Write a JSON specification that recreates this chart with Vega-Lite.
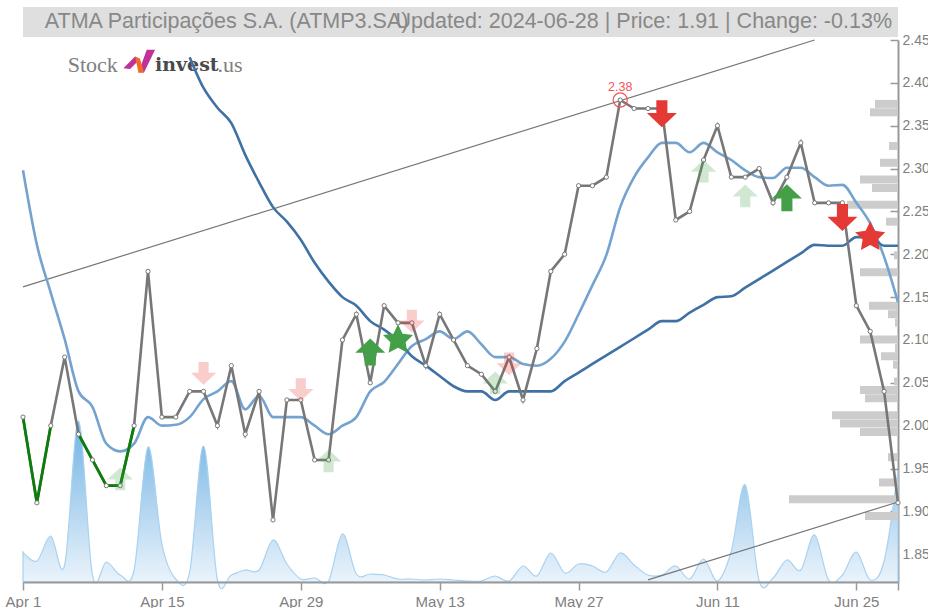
{
"$schema":"https://vega.github.io/schema/vega-lite/v6.json",
"width":875,"height":542,
"autosize":{"type":"none"},
"padding":{"left":23,"top":40,"right":30,"bottom":26},
"background":"white",
"config":{"view":{"stroke":null},"font":"Liberation Sans"},
"datasets":{
"main":[
{"d":"Apr 1","price":2.01,"fast":2.298,"slow":null,"vol":30000,"seg":"a"},
{"d":"Apr 2","price":1.91,"fast":2.211,"slow":null,"vol":21000,"seg":"a"},
{"d":"Apr 3","price":2.00,"fast":2.155,"slow":null,"vol":46000,"seg":"a"},
{"d":"Apr 4","price":2.08,"fast":2.101,"slow":null,"vol":17000,"seg":null},
{"d":"Apr 5","price":1.99,"fast":2.040,"slow":null,"vol":161000,"seg":"b"},
{"d":"Apr 8","price":1.96,"fast":2.022,"slow":null,"vol":7000,"seg":"b"},
{"d":"Apr 9","price":1.93,"fast":1.979,"slow":null,"vol":20000,"seg":"b"},
{"d":"Apr 10","price":1.93,"fast":1.970,"slow":null,"vol":7000,"seg":"b"},
{"d":"Apr 11","price":2.00,"fast":1.979,"slow":null,"vol":12000,"seg":"b"},
{"d":"Apr 12","price":2.18,"fast":2.010,"slow":null,"vol":135000,"seg":null},
{"d":"Apr 15","price":2.01,"fast":2.000,"slow":null,"vol":38000,"seg":null},
{"d":"Apr 16","price":2.01,"fast":2.001,"slow":null,"vol":3000,"seg":null},
{"d":"Apr 17","price":2.04,"fast":2.010,"slow":2.430,"vol":10000,"seg":null},
{"d":"Apr 18","price":2.04,"fast":2.031,"slow":2.394,"vol":136000,"seg":null},
{"d":"Apr 19","price":2.00,"fast":2.040,"slow":2.371,"vol":2000,"seg":null},
{"d":"Apr 22","price":2.07,"fast":2.052,"slow":2.353,"vol":7000,"seg":null},
{"d":"Apr 23","price":1.99,"fast":2.019,"slow":2.316,"vol":12000,"seg":null},
{"d":"Apr 24","price":2.04,"fast":2.035,"slow":2.284,"vol":12000,"seg":null},
{"d":"Apr 25","price":1.89,"fast":2.010,"slow":2.255,"vol":42000,"seg":null},
{"d":"Apr 26","price":2.03,"fast":2.010,"slow":2.238,"vol":18000,"seg":null},
{"d":"Apr 29","price":2.03,"fast":2.010,"slow":2.217,"vol":3000,"seg":null},
{"d":"Apr 30","price":1.96,"fast":2.000,"slow":2.190,"vol":4000,"seg":null},
{"d":"May 1","price":1.96,"fast":1.990,"slow":2.168,"vol":1000,"seg":null},
{"d":"May 2","price":2.10,"fast":2.000,"slow":2.150,"vol":48000,"seg":null},
{"d":"May 3","price":2.13,"fast":2.010,"slow":2.140,"vol":8000,"seg":null},
{"d":"May 6","price":2.05,"fast":2.040,"slow":2.122,"vol":8000,"seg":null},
{"d":"May 7","price":2.14,"fast":2.051,"slow":2.112,"vol":7000,"seg":null},
{"d":"May 8","price":2.12,"fast":2.072,"slow":2.099,"vol":3000,"seg":null},
{"d":"May 9","price":2.12,"fast":2.093,"slow":2.081,"vol":3000,"seg":null},
{"d":"May 10","price":2.07,"fast":2.101,"slow":2.070,"vol":2000,"seg":null},
{"d":"May 13","price":2.13,"fast":2.110,"slow":2.058,"vol":3000,"seg":null},
{"d":"May 14","price":2.10,"fast":2.101,"slow":2.046,"vol":2000,"seg":null},
{"d":"May 15","price":2.07,"fast":2.110,"slow":2.040,"vol":1000,"seg":null},
{"d":"May 16","price":2.06,"fast":2.095,"slow":2.040,"vol":1000,"seg":null},
{"d":"May 17","price":2.04,"fast":2.080,"slow":2.030,"vol":6000,"seg":null},
{"d":"May 20","price":2.08,"fast":2.080,"slow":2.040,"vol":1000,"seg":null},
{"d":"May 21","price":2.03,"fast":2.072,"slow":2.040,"vol":16000,"seg":null},
{"d":"May 22","price":2.09,"fast":2.070,"slow":2.040,"vol":6000,"seg":null},
{"d":"May 23","price":2.18,"fast":2.078,"slow":2.040,"vol":29000,"seg":null},
{"d":"May 24","price":2.20,"fast":2.098,"slow":2.052,"vol":9000,"seg":null},
{"d":"May 27","price":2.28,"fast":2.130,"slow":2.062,"vol":18000,"seg":null},
{"d":"May 28","price":2.28,"fast":2.164,"slow":2.072,"vol":16000,"seg":null},
{"d":"May 29","price":2.29,"fast":2.199,"slow":2.082,"vol":10000,"seg":null},
{"d":"May 31","price":2.38,"fast":2.255,"slow":2.092,"vol":29000,"seg":null},
{"d":"Jun 3","price":2.37,"fast":2.290,"slow":2.102,"vol":17000,"seg":null},
{"d":"Jun 4","price":2.37,"fast":2.313,"slow":2.112,"vol":7000,"seg":null},
{"d":"Jun 5","price":2.37,"fast":2.330,"slow":2.122,"vol":7000,"seg":null},
{"d":"Jun 6","price":2.24,"fast":2.330,"slow":2.122,"vol":16000,"seg":null},
{"d":"Jun 7","price":2.25,"fast":2.319,"slow":2.132,"vol":3000,"seg":null},
{"d":"Jun 10","price":2.31,"fast":2.330,"slow":2.141,"vol":23000,"seg":null},
{"d":"Jun 11","price":2.35,"fast":2.319,"slow":2.150,"vol":1000,"seg":null},
{"d":"Jun 12","price":2.29,"fast":2.310,"slow":2.151,"vol":31000,"seg":null},
{"d":"Jun 13","price":2.29,"fast":2.298,"slow":2.161,"vol":97000,"seg":null},
{"d":"Jun 14","price":2.30,"fast":2.290,"slow":2.171,"vol":1000,"seg":null},
{"d":"Jun 17","price":2.26,"fast":2.289,"slow":2.181,"vol":4000,"seg":null},
{"d":"Jun 18","price":2.29,"fast":2.301,"slow":2.191,"vol":22000,"seg":null},
{"d":"Jun 19","price":2.33,"fast":2.301,"slow":2.201,"vol":12000,"seg":null},
{"d":"Jun 20","price":2.26,"fast":2.290,"slow":2.211,"vol":47000,"seg":null},
{"d":"Jun 21","price":2.26,"fast":2.280,"slow":2.210,"vol":2000,"seg":null},
{"d":"Jun 24","price":2.26,"fast":2.281,"slow":2.210,"vol":7000,"seg":null},
{"d":"Jun 25","price":2.14,"fast":2.260,"slow":2.220,"vol":30000,"seg":null},
{"d":"Jun 26","price":2.11,"fast":2.236,"slow":2.220,"vol":2000,"seg":null},
{"d":"Jun 27","price":2.04,"fast":2.197,"slow":2.210,"vol":21000,"seg":null},
{"d":"Jun 28","price":1.91,"fast":2.144,"slow":2.210,"vol":112000,"seg":null}
],
"profile":[
{"level":2.38,"w":23},{"level":2.37,"w":28},{"level":2.33,"w":9},{"level":2.31,"w":18},{"level":2.29,"w":38},{"level":2.28,"w":26},{"level":2.26,"w":51},{"level":2.24,"w":12},{"level":2.20,"w":4},{"level":2.18,"w":38},{"level":2.14,"w":29},{"level":2.13,"w":10},{"level":2.12,"w":3},{"level":2.10,"w":38},{"level":2.09,"w":3},{"level":2.08,"w":17},{"level":2.07,"w":5},{"level":2.05,"w":4},{"level":2.04,"w":38},{"level":2.03,"w":33},{"level":2.01,"w":66},{"level":2.00,"w":58},{"level":1.99,"w":38},{"level":1.96,"w":10},{"level":1.93,"w":19},{"level":1.91,"w":109},{"level":1.89,"w":33}
],
"trend":[
{"d":"Apr 1","p":2.162,"line":"upper"},{"d":"Jun 20","p":2.45,"line":"upper"},
{"d":"Jun 4","p":1.82,"line":"lower"},{"d":"Jun 28","p":1.911,"line":"lower"}
],
"signals":[
{"d":"Apr 18","p":2.061,"kind":"down","strength":"weak"},
{"d":"Apr 29","p":2.042,"kind":"down","strength":"weak"},
{"d":"May 9","p":2.122,"kind":"down","strength":"weak"},
{"d":"May 20","p":2.072,"kind":"down","strength":"weak"},
{"d":"Apr 10","p":1.938,"kind":"up","strength":"weak"},
{"d":"May 1","p":1.959,"kind":"up","strength":"weak"},
{"d":"May 17","p":2.050,"kind":"up","strength":"weak"},
{"d":"Jun 10","p":2.297,"kind":"up","strength":"weak"},
{"d":"Jun 13","p":2.268,"kind":"up","strength":"weak"},
{"d":"May 6","p":2.086,"kind":"up","strength":"strong"},
{"d":"Jun 18","p":2.266,"kind":"up","strength":"strong"},
{"d":"Jun 5","p":2.364,"kind":"down","strength":"strong"},
{"d":"Jun 24","p":2.243,"kind":"down","strength":"strong"},
{"d":"May 8","p":2.100,"kind":"star","strength":"buy"},
{"d":"Jun 26","p":2.220,"kind":"star","strength":"sell"}
]
},
"layer":[
{
"data":{"name":"main"},
"mark":{"type":"area","interpolate":"cardinal","clip":false,"stroke":"#a8d2f0","strokeWidth":1.2,"fill":{"x1":0,"y1":0,"x2":0,"y2":1,"gradient":"linear","stops":[{"offset":0,"color":"#71b2e3"},{"offset":1,"color":"#eff6fc"}]}},
"encoding":{
"x":{"field":"d","type":"ordinal","sort":null,"scale":{"type":"point","padding":0},"axis":null},
"y":{"field":"vol","type":"quantitative","scale":{"domain":[0,542000],"nice":false,"zero":true},"axis":null}
}
},
{
"data":{"name":"profile"},
"mark":{"type":"bar","orient":"horizontal","size":8,"color":"#cccccc"},
"encoding":{
"x":{"field":"w","type":"quantitative","scale":{"domain":[0,875],"reverse":true,"nice":false},"axis":null},
"y":{"field":"level","type":"quantitative","scale":{"domain":[1.8176,2.45],"nice":false,"zero":false},"axis":null}
}
},
{
"encoding":{
"x":{"field":"d","type":"ordinal","scale":{"type":"point","padding":0,"domain":["Apr 1","Apr 2","Apr 3","Apr 4","Apr 5","Apr 8","Apr 9","Apr 10","Apr 11","Apr 12","Apr 15","Apr 16","Apr 17","Apr 18","Apr 19","Apr 22","Apr 23","Apr 24","Apr 25","Apr 26","Apr 29","Apr 30","May 1","May 2","May 3","May 6","May 7","May 8","May 9","May 10","May 13","May 14","May 15","May 16","May 17","May 20","May 21","May 22","May 23","May 24","May 27","May 28","May 29","May 31","Jun 3","Jun 4","Jun 5","Jun 6","Jun 7","Jun 10","Jun 11","Jun 12","Jun 13","Jun 14","Jun 17","Jun 18","Jun 19","Jun 20","Jun 21","Jun 24","Jun 25","Jun 26","Jun 27","Jun 28"]},
"axis":{"title":null,"values":["Apr 1","Apr 15","Apr 29","May 13","May 27","Jun 11","Jun 25","Jun 28"],"labelExpr":"datum.label=='Jun 28'?'':datum.label","labelAngle":0,"labelFontSize":15,"labelColor":"#808080","labelPadding":4,"domainColor":"#999999","domainWidth":2,"tickColor":"#999999","tickWidth":1.5,"tickSize":8,"grid":false,"labelOverlap":false,"labelFlush":false}},
"y":{"type":"quantitative","scale":{"domain":[1.8176,2.45],"nice":false,"zero":false},
"axis":{"title":null,"orient":"right","values":[1.85,1.9,1.95,2,2.05,2.1,2.15,2.2,2.25,2.3,2.35,2.4,2.45],"format":".2f","labelFontSize":14,"labelColor":"#808080","labelPadding":12,"domainColor":"#999999","domainWidth":2,"tickColor":"#999999","tickWidth":1.5,"tickSize":-8,"grid":false,"labelOverlap":false,"labelFlush":false}}
},
"layer":[
{"data":{"name":"main"},"mark":{"type":"rect","color":"#dfdfdf","clip":false},"transform":[{"filter":"datum.d=='Apr 1'"}],
"encoding":{"x":{"datum":"Apr 1","type":"ordinal"},"x2":{"datum":"Jun 28"},"y":{"datum":2.4885,"type":"quantitative"},"y2":{"datum":2.4535}}},
{"data":{"name":"main"},"transform":[{"filter":"datum.d=='Apr 1'"}],"mark":{"type":"text","align":"left","baseline":"middle","fontSize":21.5,"color":"#888888","dx":-6,"text":"ATMA Participações S.A. (ATMP3.SA)"},
"encoding":{"x":{"datum":"Apr 3","type":"ordinal"},"y":{"datum":2.4715,"type":"quantitative"}}},
{"data":{"name":"main"},"transform":[{"filter":"datum.d=='Apr 1'"}],"mark":{"type":"text","align":"right","baseline":"middle","fontSize":21.5,"color":"#888888","dx":-6,"text":"Updated: 2024-06-28 | Price: 1.91 | Change: -0.13%"},
"encoding":{"x":{"datum":"Jun 28","type":"ordinal"},"y":{"datum":2.4715,"type":"quantitative"}}},
{"data":{"name":"main"},"transform":[{"filter":"datum.d=='Apr 1'"}],"mark":{"type":"text","align":"left","baseline":"middle","fontSize":22,"font":"Liberation Serif","color":"#808080","dx":3,"text":"Stock"},
"encoding":{"x":{"datum":"Apr 4","type":"ordinal"},"y":{"datum":2.4208,"type":"quantitative"}}},
{"data":{"name":"main"},"transform":[{"filter":"datum.d=='Apr 1'"}],"mark":{"type":"text","align":"left","baseline":"middle","fontSize":19,"font":"DejaVu Serif","fontWeight":"bold","color":"#4a4a4a","dx":7,"text":"invest"},
"encoding":{"x":{"datum":"Apr 12","type":"ordinal"},"y":{"datum":2.4208,"type":"quantitative"}}},
{"data":{"name":"main"},"transform":[{"filter":"datum.d=='Apr 1'"}],"mark":{"type":"text","align":"left","baseline":"middle","fontSize":22,"font":"Liberation Serif","color":"#808080","dx":0,"text":".us"},
"encoding":{"x":{"datum":"Apr 19","type":"ordinal"},"y":{"datum":2.4208,"type":"quantitative"}}},
{"data":{"name":"main"},"transform":[{"filter":"datum.d=='Apr 1'"}],"mark":{"type":"point","filled":true,"opacity":1,"size":1024,"color":"#c2309a","shape":"M-0.67,0.42L0.06,-0.31L0.37,-0.15L-0.25,0.48ZM0.79,-0.73L1.31,-0.73L0.62,0.69L0.27,0.69Z"},
"encoding":{"x":{"datum":"Apr 11","type":"ordinal"},"y":{"datum":2.425,"type":"quantitative"}}},
{"data":{"name":"main"},"transform":[{"filter":"datum.d=='Apr 1'"}],"mark":{"type":"point","filled":true,"opacity":1,"size":1024,"color":"#f26a24","shape":"M0.06,-0.31L0.37,-0.15L0.62,0.69L0.27,0.69Z"},
"encoding":{"x":{"datum":"Apr 11","type":"ordinal"},"y":{"datum":2.425,"type":"quantitative"}}},
{"data":{"name":"trend"},"mark":{"type":"line","color":"#777777","strokeWidth":1.2,"clip":false},
"encoding":{"y":{"field":"p"},"detail":{"field":"line"}}},
{"data":{"name":"main"},"mark":{"type":"line","interpolate":"monotone","color":"#74a3cf","strokeWidth":2.6},
"encoding":{"y":{"field":"fast"}}},
{"data":{"name":"main"},"mark":{"type":"line","interpolate":"monotone","color":"#3f71a5","strokeWidth":2.6},
"transform":[{"filter":"datum.slow!=null"}],
"encoding":{"y":{"field":"slow"}}},
{"data":{"name":"main"},"mark":{"type":"line","color":"#777777","strokeWidth":2.6},
"encoding":{"y":{"field":"price"}}},
{"data":{"name":"main"},"transform":[{"filter":"datum.seg!=null"}],"mark":{"type":"line","color":"#0a7d0a","strokeWidth":2.8},
"encoding":{"y":{"field":"price"},"detail":{"field":"seg"}}},
{"data":{"name":"main"},"mark":{"type":"point","filled":true,"fill":"white","stroke":"#777777","strokeWidth":1,"opacity":1,"size":18},
"encoding":{"y":{"field":"price"}}},
{"data":{"name":"signals"},"transform":[{"filter":"datum.kind=='up'&&datum.strength=='weak'"}],"mark":{"type":"point","filled":true,"opacity":0.25,"color":"#43a047","size":640,"shape":"M0,-0.9L1,0.05L0.4,0.05L0.4,0.9L-0.4,0.9L-0.4,0.05L-1,0.05Z"},
"encoding":{"y":{"field":"p"}}},
{"data":{"name":"signals"},"transform":[{"filter":"datum.kind=='down'&&datum.strength=='weak'"}],"mark":{"type":"point","filled":true,"opacity":0.25,"color":"#e53935","size":640,"shape":"M0,0.9L1,-0.05L0.4,-0.05L0.4,-0.9L-0.4,-0.9L-0.4,-0.05L-1,-0.05Z"},
"encoding":{"y":{"field":"p"}}},
{"data":{"name":"signals"},"transform":[{"filter":"datum.kind=='up'&&datum.strength=='strong'"}],"mark":{"type":"point","filled":true,"opacity":1,"color":"#43a047","size":900,"shape":"M0,-0.9L1,0.05L0.37,0.05L0.37,0.9L-0.37,0.9L-0.37,0.05L-1,0.05Z"},
"encoding":{"y":{"field":"p"}}},
{"data":{"name":"signals"},"transform":[{"filter":"datum.kind=='down'&&datum.strength=='strong'"}],"mark":{"type":"point","filled":true,"opacity":1,"color":"#e53935","size":900,"shape":"M0,0.9L1,-0.05L0.37,-0.05L0.37,-0.9L-0.37,-0.9L-0.37,-0.05L-1,-0.05Z"},
"encoding":{"y":{"field":"p"}}},
{"data":{"name":"signals"},"transform":[{"filter":"datum.kind=='star'&&datum.strength=='buy'"}],"mark":{"type":"point","filled":true,"opacity":1,"color":"#43a047","size":1000,"shape":"M0,-1L0.29,-0.4L0.95,-0.31L0.48,0.15L0.59,0.81L0,0.5L-0.59,0.81L-0.48,0.15L-0.95,-0.31L-0.29,-0.4Z"},
"encoding":{"y":{"field":"p"}}},
{"data":{"name":"signals"},"transform":[{"filter":"datum.kind=='star'&&datum.strength=='sell'"}],"mark":{"type":"point","filled":true,"opacity":1,"color":"#e53935","size":1000,"shape":"M0,-1L0.29,-0.4L0.95,-0.31L0.48,0.15L0.59,0.81L0,0.5L-0.59,0.81L-0.48,0.15L-0.95,-0.31L-0.29,-0.4Z"},
"encoding":{"y":{"field":"p"}}},
{"data":{"name":"main"},"transform":[{"filter":"datum.d=='May 31'"}],"mark":{"type":"point","shape":"circle","filled":false,"color":"#f25555","strokeWidth":1.2,"opacity":1,"size":200},
"encoding":{"y":{"field":"price"}}},
{"data":{"name":"main"},"transform":[{"filter":"datum.d=='May 31'"}],"mark":{"type":"text","color":"#f25555","fontSize":12.5,"dy":-13},
"encoding":{"y":{"field":"price"},"text":{"field":"price","format":".2f"}}}
]
}
],
"resolve":{"scale":{"x":"independent","y":"independent"}}
}
